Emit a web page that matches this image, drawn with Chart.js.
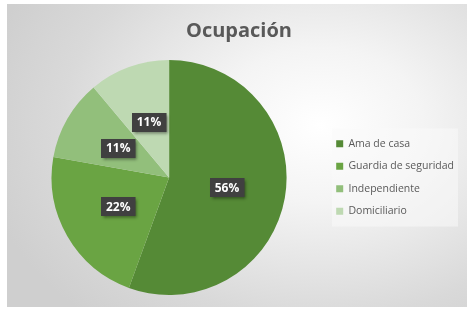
<!DOCTYPE html>
<html>
<head>
<meta charset="utf-8">
<script src="https://cdn.jsdelivr.net/npm/chart.js@4.4.1/dist/chart.umd.min.js"></script>
<style>
  html, body { margin: 0; padding: 0; background: #fff; }
  #wrap {
    position: absolute; left: 7px; top: 4px; width: 460px; height: 303px;
    background: radial-gradient(ellipse 75% 85% at 68% 40%, #ffffff 0%, #f4f4f4 30%, #d9d9d9 75%, #cfcfcf 100%);
  }
  canvas { display: block; }
</style>
</head>
<body>
<div id="wrap"><canvas id="pie" width="460" height="303"></canvas></div>
<script>
const categories = ['Ama de casa', 'Guardia de seguridad', 'Independiente', 'Domiciliario']
const counts = [5, 2, 1, 1]
const percentLabels = ['56%', '22%', '11%', '11%']
const sliceColors = ['#558a36', '#6aa443', '#92bf7b', '#bed9b2']

// dark boxes with the percentage, Excel style
const boxLabels = {
  id: 'boxLabels',
  afterDatasetsDraw(chart) {
    const ctx = chart.ctx
    const arcs = chart.getDatasetMeta(0).data
    ctx.save()
    ctx.font = 'bold 12px "Open Sans", sans-serif'
    ctx.textAlign = 'center'
    ctx.textBaseline = 'middle'
    arcs.forEach((arc, i) => {
      const p = arc.tooltipPosition()
      const txt = percentLabels[i]
      const w = ctx.measureText(txt).width + 10
      const h = 19
      ctx.shadowColor = 'rgba(0,0,0,0.45)'
      ctx.shadowBlur = 3
      ctx.shadowOffsetX = 1.5
      ctx.shadowOffsetY = 1.5
      ctx.fillStyle = '#404040'
      ctx.fillRect(Math.round(p.x - w / 2), Math.round(p.y - h / 2), w, h)
      ctx.shadowColor = 'transparent'
      ctx.fillStyle = '#ffffff'
      ctx.fillText(txt, p.x, p.y + 0.5)
    })
    ctx.restore()
  }
}

// nudge the legend right a little and put a faint panel behind its items
const legendPanel = {
  id: 'legendPanel',
  afterLayout(chart) {
    chart.legend.left += 3
    chart.legend.right += 3
  },
  beforeDraw(chart) {
    const boxes = chart.legend.legendHitBoxes
    if (!boxes || !boxes.length) return
    const first = boxes[0], last = boxes[boxes.length - 1]
    const ctx = chart.ctx
    ctx.save()
    ctx.fillStyle = 'rgba(250,250,250,0.55)'
    ctx.fillRect(325, first.top - 10, 126, last.top + last.height - first.top + 20)
    ctx.restore()
  }
}

new Chart(document.getElementById('pie'), {
  type: 'pie',
  data: {
    labels: categories,
    datasets: [{
      data: counts,
      backgroundColor: sliceColors,
      borderWidth: 0
    }]
  },
  plugins: [legendPanel, boxLabels],
  options: {
    responsive: false,
    animation: false,
    layout: { padding: { left: 10, right: 6, top: 0, bottom: 12 } },
    plugins: {
      tooltip: { enabled: false },
      title: {
        display: true,
        text: 'Ocupación',
        color: '#595959',
        font: { family: '"Open Sans", sans-serif', size: 20, weight: 'bold' },
        padding: { top: 15, bottom: 17 }
      },
      legend: {
        position: 'right',
        align: 'center',
        fullSize: false,
        labels: {
          color: '#595959',
          font: { family: '"Open Sans", sans-serif', size: 10.5 },
          boxWidth: 7,
          boxHeight: 7,
          padding: 12
        }
      }
    }
  }
})
</script>
</body>
</html>
